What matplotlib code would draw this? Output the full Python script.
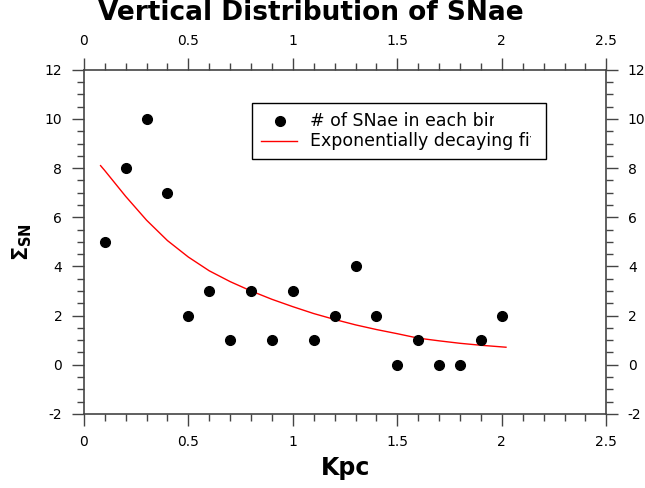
import matplotlib
matplotlib.use("Agg")
import matplotlib.pyplot as plt
from matplotlib.patches import Rectangle
from matplotlib.lines import Line2D
from matplotlib.transforms import Bbox, TransformedBbox
from matplotlib.ticker import MultipleLocator

# SN counts per bin
bin_kpc = [0.1, 0.2, 0.3, 0.4, 0.5, 0.6, 0.7, 0.8, 0.9, 1.0,
           1.1, 1.2, 1.3, 1.4, 1.5, 1.6, 1.7, 1.8, 1.9, 2.0]
sn_count = [5, 8, 10, 7, 2, 3, 1, 3, 1, 3,
            1, 2, 4, 2, 0, 1, 0, 0, 1, 2]

# exponential fit
fit_kpc = [0.08, 0.1, 0.2, 0.3, 0.4, 0.5, 0.6, 0.7, 0.8, 0.9, 1.0,
           1.1, 1.2, 1.3, 1.4, 1.5, 1.6, 1.7, 1.8, 1.9, 2.02]
fit_val = [8.1, 7.9, 6.85, 5.88, 5.05, 4.38, 3.82, 3.38, 3.0, 2.66, 2.36,
           2.08, 1.84, 1.62, 1.43, 1.26, 1.08, 0.97, 0.87, 0.79, 0.71]

legend_labels = ["# of SNae in each bin", "Exponentially decaying fit"]


def main():
    fig = plt.figure(figsize=(6.45, 4.88), dpi=100)
    ax = fig.add_axes([0.130, 0.152, 0.810, 0.705])

    ax.plot(bin_kpc, sn_count, "o", color="black", markersize=7, clip_on=False, zorder=3)
    ax.plot(fit_kpc, fit_val, "-", color="red", linewidth=1.0, zorder=2)

    ax.set_xlim(0, 2.5)
    ax.set_ylim(-2, 12)
    ax.xaxis.set_minor_locator(MultipleLocator(0.1))
    ax.yaxis.set_minor_locator(MultipleLocator(0.5))
    ax.set_xticks([0, 0.5, 1, 1.5, 2, 2.5])
    ax.set_xticklabels(["0", "0.5", "1", "1.5", "2", "2.5"])
    ax.set_yticks([-2, 0, 2, 4, 6, 8, 10, 12])
    ax.set_yticklabels(["-2", "0", "2", "4", "6", "8", "10", "12"])

    ax.tick_params(which="both", direction="out", top=True, right=True,
                   labeltop=True, labelright=True, color="#444444",
                   labelsize=10, width=1)
    ax.tick_params(which="major", length=8.5, pad=7)
    ax.tick_params(which="minor", length=5)
    for sp in ax.spines.values():
        sp.set_color("#444444")
        sp.set_linewidth(1.2)

    ax.set_xlabel("Kpc", fontsize=17, fontweight="bold", labelpad=5)
    ax.set_ylabel(r"$\mathbf{\Sigma_{SN}}$", fontsize=15, labelpad=8)
    fig.text(0.482, 0.974, "Vertical Distribution of SNae", fontsize=19,
             fontweight="bold", ha="center", va="center")

    # legend box; labels are cut short like the original
    bx, by, bw, bh = 0.321, 0.741, 0.563, 0.163
    box = Rectangle((bx, by), bw, bh, transform=ax.transAxes,
                    facecolor="white", edgecolor="black", linewidth=1.0, zorder=4)
    ax.add_patch(box)
    ax.add_line(Line2D([0.375], [0.852], marker="o", color="black",
                       markersize=7, linestyle="none", transform=ax.transAxes, zorder=5))
    ax.add_line(Line2D([0.339, 0.408], [0.792, 0.792], color="red",
                       linewidth=1.0, transform=ax.transAxes, zorder=5))
    cut_at = [0.785, 0.856]
    for i, lab in enumerate(legend_labels):
        t = ax.text(0.433, [0.852, 0.792][i], lab, transform=ax.transAxes,
                    fontsize=12.5, va="center", ha="left", zorder=5, clip_on=True)
        t.set_clip_path(None)
        t.set_clip_box(TransformedBbox(Bbox.from_extents(bx, by, cut_at[i], by + bh),
                                       ax.transAxes))

    fig.savefig("out.png", dpi=100)


if __name__ == "__main__":
    main()
